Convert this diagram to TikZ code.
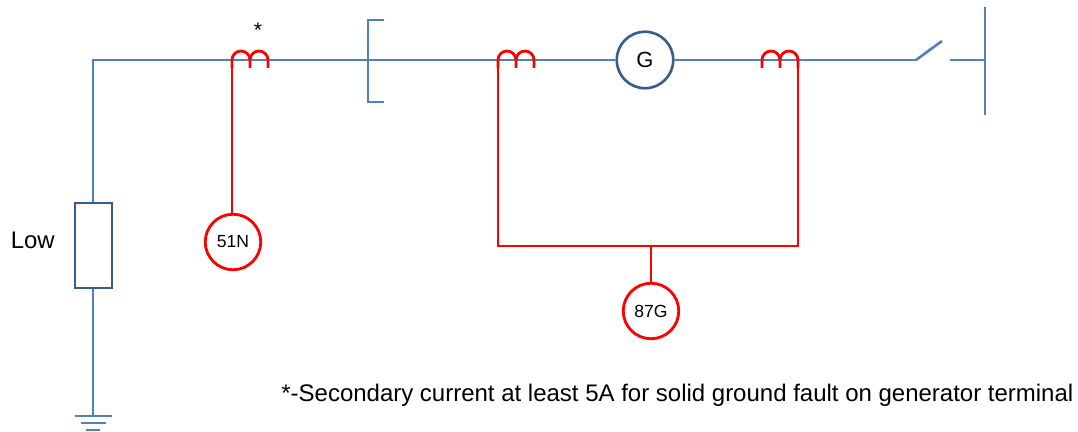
\documentclass[tikz,border=0pt]{standalone}
\usepackage{fontspec}
\setmainfont{Liberation Sans}
\usetikzlibrary{positioning,calc}
\definecolor{busblue}{HTML}{4F81BD}
\definecolor{edgeblue}{HTML}{385D8A}
\tikzstyle{bus} = [draw=busblue,line width=1.5pt]
\tikzstyle{wire} = [draw=red,line width=1.6pt]
\tikzstyle{relay} = [circle,draw=red,line width=1.6pt,fill=white,inner sep=0pt,minimum size=1.11cm,font=\fontsize{10}{12}\selectfont]
\tikzset{coil/.pic={
    \draw [wire] (0,-0.16) -- (0,0) arc (180:0:0.18) -- (0.36,-0.16);
    \draw [wire] (0.36,0) arc (180:0:0.18) -- (0.72,-0.16);
}}

\begin{document}
\begin{tikzpicture}
    \useasboundingbox (0,0) rectangle (21.56,8.64);

    \path
    coordinate (corner) at (1.86,7.44)
    coordinate (gnd) at (1.86,0.32)
    coordinate (brtop) at (7.36,8.24)
    coordinate (brbot) at (7.36,6.6)
    coordinate (brtopend) at (7.68,8.24)
    coordinate (brbotend) at (7.68,6.6)
    coordinate (swleft) at (18.32,7.44)
    coordinate (swtip) at (18.84,7.82)
    coordinate (swright) at (19,7.44)
    coordinate (bus) at (19.7,7.44)
    coordinate (bustop) at (19.7,8.5)
    coordinate (busbot) at (19.7,6.34);

    \node [circle,draw=edgeblue,line width=1.5pt,inner sep=0pt,minimum size=1.13cm,font=\fontsize{12.5}{14}\selectfont] (gen) at (12.9,7.44) {G};
    \node [rectangle,draw=edgeblue,line width=1.5pt,inner sep=0pt,minimum width=0.74cm,minimum height=1.7cm] (res) at (1.87,3.73) {};
    \node [anchor=east,inner sep=0pt,font=\fontsize{13.6}{16}\selectfont] (low) at (1.1,3.84) {Low};

    % blue one-line
    \draw [bus] (res.north -| corner) -- (corner) -- (gen.west);
    \draw [bus] (gen.east) -- (swleft);
    \draw [bus] (swleft) -- (swtip);
    \draw [bus] (swright) -- (bus);
    \draw [bus] (bustop) -- (busbot);
    \draw [bus] (res.south -| corner) -- (gnd);
    \draw [bus] (brtopend) -- (brtop) -- (brbot) -- (brbotend);

    % ground
    \draw [bus] ($(gnd)+(-0.37,0)$) -- ($(gnd)+(0.37,0)$);
    \draw [bus] ($(gnd)+(-0.25,-0.14)$) -- ($(gnd)+(0.25,-0.14)$);
    \draw [bus] ($(gnd)+(-0.14,-0.28)$) -- ($(gnd)+(0.14,-0.28)$);

    % current transformers
    \pic at (4.64,7.44) {coil};
    \pic at (9.96,7.44) {coil};
    \pic at (15.24,7.44) {coil};
    \node [font=\fontsize{12}{14}\selectfont] (star) at (5.16,8.04) {*};

    \node [relay] (r51) at (4.66,3.8) {51N};
    \node [relay] (r87) at (13.02,2.42) {87G};
    \path
    coordinate (ct1) at (4.64,7.44)
    coordinate (ct2) at (9.96,7.44)
    coordinate (ct3) at (15.96,7.44)
    coordinate (jl) at (9.96,3.72)
    coordinate (jr) at (15.96,3.72)
    coordinate (jm) at (13.02,3.72);
    \draw [wire] (ct1) -- (ct1 |- r51.north);
    \draw [wire] (ct2) -- (jl) -- (jr) -- (ct3);
    \draw [wire] (jm) -- (r87.north);

    \node [anchor=west,inner sep=0pt,font=\fontsize{13.65}{16}\selectfont] (note) at (5.62,0.73) {*-Secondary current at least 5A for solid ground fault on generator terminal};
\end{tikzpicture}
\end{document}
